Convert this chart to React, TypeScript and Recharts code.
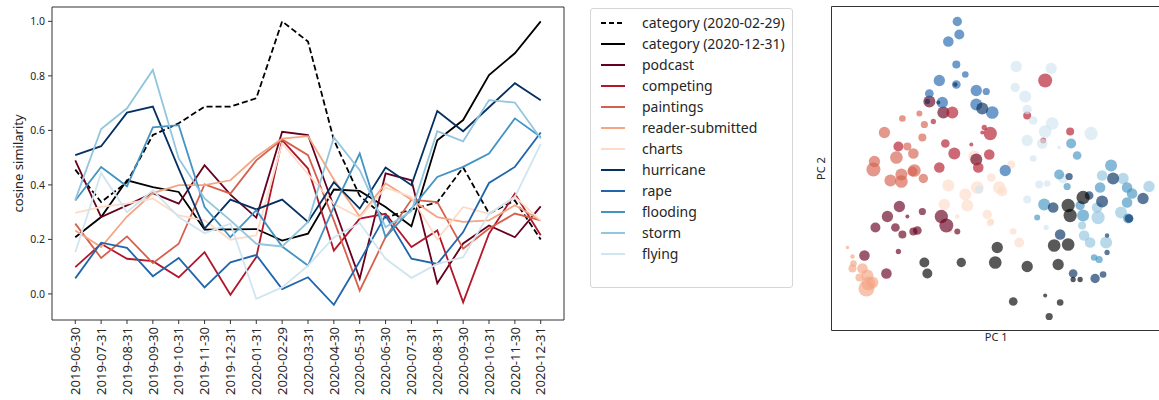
import React from 'react';
import {
  LineChart,
  Line,
  XAxis,
  YAxis,
  Legend,
  ReferenceLine,
  ScatterChart,
  Scatter,
  ZAxis,
  Label,
} from 'recharts';

// month-end snapshots
const dates = [
  '2019-06-30', '2019-07-31', '2019-08-31', '2019-09-30', '2019-10-31', '2019-11-30',
  '2019-12-31', '2020-01-31', '2020-02-29', '2020-03-31', '2020-04-30', '2020-05-31',
  '2020-06-30', '2020-07-31', '2020-08-31', '2020-09-30', '2020-10-31', '2020-11-30',
  '2020-12-31',
];

const category0229 = [0.456, 0.337, 0.41, 0.583, 0.626, 0.687, 0.687, 0.718, 1.0, 0.926, 0.565, 0.36, 0.28, 0.31, 0.336, 0.464, 0.295, 0.343, 0.2];
const category1231 = [0.208, 0.282, 0.417, 0.392, 0.374, 0.236, 0.237, 0.238, 0.196, 0.221, 0.383, 0.378, 0.319, 0.248, 0.564, 0.638, 0.803, 0.883, 1.0];
const podcast = [0.49, 0.282, 0.325, 0.37, 0.331, 0.472, 0.364, 0.28, 0.595, 0.583, 0.32, 0.056, 0.442, 0.417, 0.039, 0.185, 0.251, 0.208, 0.321];
const competing = [0.098, 0.184, 0.129, 0.12, 0.061, 0.153, -0.003, 0.135, 0.564, 0.46, 0.159, 0.276, 0.294, 0.172, 0.233, -0.031, 0.221, 0.368, 0.215];
const paintings = [0.258, 0.132, 0.211, 0.113, 0.184, 0.402, 0.368, 0.49, 0.567, 0.509, 0.27, 0.012, 0.208, 0.346, 0.337, 0.166, 0.24, 0.295, 0.27];
const readerSubmitted = [0.233, 0.172, 0.284, 0.37, 0.399, 0.399, 0.417, 0.503, 0.57, 0.579, 0.42, 0.284, 0.405, 0.346, 0.282, 0.264, 0.27, 0.325, 0.27];
const charts = [0.297, 0.319, 0.331, 0.35, 0.288, 0.27, 0.199, 0.215, 0.552, 0.44, 0.33, 0.28, 0.39, 0.356, 0.2, 0.319, 0.294, 0.356, 0.27];
const hurricane = [0.509, 0.542, 0.665, 0.687, 0.46, 0.24, 0.346, 0.31, 0.346, 0.264, 0.41, 0.313, 0.464, 0.399, 0.671, 0.597, 0.685, 0.773, 0.711];
const rape = [0.057, 0.188, 0.169, 0.065, 0.132, 0.024, 0.116, 0.143, 0.018, 0.061, -0.04, 0.12, 0.288, 0.129, 0.11, 0.227, 0.407, 0.466, 0.592];
const flooding = [0.343, 0.466, 0.395, 0.611, 0.619, 0.319, 0.208, 0.307, 0.174, 0.104, 0.319, 0.515, 0.208, 0.313, 0.429, 0.466, 0.515, 0.644, 0.576];
const storm = [0.345, 0.605, 0.681, 0.822, 0.497, 0.35, 0.27, 0.184, 0.174, 0.264, 0.574, 0.454, 0.245, 0.304, 0.597, 0.56, 0.711, 0.702, 0.57];
const flying = [0.153, 0.444, 0.3, 0.38, 0.282, 0.223, 0.258, -0.018, 0.024, 0.104, 0.207, 0.26, 0.129, 0.059, 0.11, 0.135, 0.294, 0.356, 0.55];

const yTicks = [0, 0.2, 0.4, 0.6, 0.8, 1.0];

// PCA projection: [PC1, PC2, weight]
const podcastPts = [[98, 229, 36], [112, 218, 36], [68, 124, 32], [56, 114, 32], [44, 103, 25], [64, 103, 19], [71, 96, 16], [82, 99, 16], [86, 100, 19], [91, 119, 13], [76, 114, 4], [110, 114, 44], [115, 105, 49], [126, 99, 9], [33, 75, 28], [55, 57, 28], [67, 79, 7], [145, 171, 36]];
const competingPts = [[121, 218, 36], [159, 197, 44], [153, 203, 7], [151, 198, 4], [114, 187, 19], [123, 177, 36], [158, 176, 28], [108, 163, 28], [67, 184, 25], [147, 163, 28], [102, 209, 7], [140, 186, 4], [214, 250, 49], [239, 199, 16], [196, 215, 16], [212, 190, 9]];
const paintingsPts = [[53, 198, 32], [71, 212, 11], [88, 217, 9], [93, 206, 13], [91, 193, 16], [76, 184, 16], [65, 173, 40], [82, 177, 28], [43, 169, 32], [42, 161, 49], [83, 160, 40], [70, 156, 36], [59, 150, 36], [70, 149, 40], [92, 152, 22], [81, 159, 25]];
const readerPts = [[16, 83, 3], [21, 74, 5], [22, 67, 11], [21, 62, 16], [31, 62, 28], [36, 55, 36], [28, 53, 16], [37, 47, 49], [35, 42, 64], [41, 48, 36]];
const chartsPts = [[117, 145, 36], [134, 136, 36], [136, 125, 36], [113, 126, 32], [146, 143, 40], [156, 116, 22], [159, 108, 13], [126, 114, 5], [160, 153, 19], [143, 174, 36], [119, 100, 5], [180, 166, 16], [168, 143, 40], [171, 139, 25], [182, 99, 11], [188, 88, 25], [160, 109, 7]];
const hurricanePts = [[151, 222, 36], [124, 246, 5], [107, 228, 4], [96, 229, 7], [222, 123, 28], [229, 96, 28], [242, 57, 19], [264, 52, 22], [272, 56, 11], [258, 135, 19], [271, 129, 36], [282, 152, 36], [312, 132, 32], [298, 112, 19], [276, 78, 7], [276, 95, 5], [238, 154, 13]];
const rapePts = [[126, 309, 22], [128, 296, 25], [117, 289, 28], [125, 266, 16], [134, 256, 11], [108, 250, 32], [125, 246, 19], [98, 237, 19], [111, 228, 32], [145, 240, 32], [155, 239, 13], [145, 226, 36], [161, 218, 40], [174, 160, 32]];
const floodingPts = [[240, 187, 25], [246, 175, 19], [213, 126, 36], [206, 113, 9], [228, 156, 25], [236, 144, 13], [280, 165, 36], [296, 143, 28], [301, 137, 28], [296, 128, 28], [249, 125, 22], [252, 115, 36], [263, 73, 11], [268, 71, 13], [297, 112, 25], [269, 143, 28]];
const stormPts = [[271, 155, 28], [292, 152, 32], [290, 118, 36], [267, 113, 44], [251, 105, 16], [253, 95, 28], [259, 88, 28], [275, 88, 36], [318, 144, 32], [266, 123, 28]];
const flyingPts = [[185, 264, 32], [220, 262, 32], [184, 243, 22], [194, 234, 36], [196, 221, 22], [202, 210, 19], [214, 199, 40], [221, 207, 40], [260, 197, 44], [196, 190, 32], [211, 187, 28], [228, 183, 3], [202, 172, 11], [208, 146, 16], [216, 147, 11], [196, 131, 16], [215, 103, 7], [232, 152, 25], [148, 141, 16]];
const categoryPts = [[93, 68, 25], [96, 57, 25], [130, 68, 22], [166, 83, 32], [164, 68, 40], [196, 64, 32], [227, 66, 32], [223, 85, 40], [237, 86, 40], [237, 125, 44], [239, 115, 44], [252, 133, 44], [182, 29, 19], [214, 35, 4], [229, 28, 11], [218, 14, 13], [242, 51, 7], [249, 51, 7]];

const series = [
  { key: 'cat0229', name: 'category (2020-02-29)', values: category0229, color: '#000000', dash: '6 3' },
  { key: 'cat1231', name: 'category (2020-12-31)', values: category1231, color: '#000000' },
  { key: 'podcast', name: 'podcast', values: podcast, color: '#67001f' },
  { key: 'competing', name: 'competing', values: competing, color: '#b2182b' },
  { key: 'paintings', name: 'paintings', values: paintings, color: '#d6604d' },
  { key: 'reader', name: 'reader-submitted', values: readerSubmitted, color: '#f4a582' },
  { key: 'charts', name: 'charts', values: charts, color: '#fddbc7' },
  { key: 'hurricane', name: 'hurricane', values: hurricane, color: '#053061' },
  { key: 'rape', name: 'rape', values: rape, color: '#2166ac' },
  { key: 'flooding', name: 'flooding', values: flooding, color: '#4393c3' },
  { key: 'storm', name: 'storm', values: storm, color: '#92c5de' },
  { key: 'flying', name: 'flying', values: flying, color: '#d1e5f0' },
];

const scatterGroups = [
  { name: 'reader-submitted', pts: readerPts, color: '#f4a582' },
  { name: 'paintings', pts: paintingsPts, color: '#d6604d' },
  { name: 'charts', pts: chartsPts, color: '#fddbc7' },
  { name: 'podcast', pts: podcastPts, color: '#67001f' },
  { name: 'competing', pts: competingPts, color: '#b2182b' },
  { name: 'flying', pts: flyingPts, color: '#d1e5f0' },
  { name: 'storm', pts: stormPts, color: '#92c5de' },
  { name: 'flooding', pts: floodingPts, color: '#4393c3' },
  { name: 'rape', pts: rapePts, color: '#2166ac' },
  { name: 'hurricane', pts: hurricanePts, color: '#053061' },
  { name: 'category', pts: categoryPts, color: '#000000' },
];

const lineData = dates.map((d, i) => {
  const row: Record<string, number | string> = { i, date: d };
  series.forEach((s) => {
    row[s.key] = s.values[i];
  });
  return row;
});

const AXIS = '#333333';
const TEXT = '#262626';

function DateTick({ x, y, payload }: any) {
  return (
    <g transform={`translate(${x},${y})`}>
      <text transform="rotate(-90)" textAnchor="end" dy="0.36em" x={-1} fontSize={13} fill={TEXT}>
        {dates[payload.value]}
      </text>
    </g>
  );
}

function LegendBox({ payload }: any) {
  const items = [...(payload || [])].sort(
    (a: any, b: any) =>
      series.findIndex((s) => s.key === a.dataKey) - series.findIndex((s) => s.key === b.dataKey)
  );
  return (
    <div
      style={{
        border: '1px solid #d6d6d6',
        borderRadius: 3,
        background: '#fff',
        padding: '3px 0 3px 0',
        boxSizing: 'border-box',
        width: 203,
        height: 280,
      }}
    >
      {items.map((it: any) => {
        const s = series.find((q) => q.key === it.dataKey);
        return (
          <div key={it.dataKey} style={{ display: 'flex', alignItems: 'center', height: 21 }}>
            <svg width={24} height={4} style={{ marginLeft: 10, marginRight: 17 }}>
              <line x1={0} y1={2} x2={24} y2={2} stroke={it.color} strokeWidth={2} strokeDasharray={s && s.dash ? '5 3' : undefined} />
            </svg>
            <span style={{ fontSize: 14, color: TEXT, lineHeight: '21px', whiteSpace: 'nowrap' }}>{it.value}</span>
          </div>
        );
      })}
    </div>
  );
}

export default function App() {
  return (
    <div
      style={{
        position: 'absolute',
        left: 0,
        top: 0,
        width: 1159,
        height: 400,
        overflow: 'hidden',
        background: '#fff',
        fontFamily: '"Noto Sans", sans-serif',
      }}
    >
      <div style={{ position: 'absolute', left: 0, top: 0 }}>
        <LineChart width={800} height={400} data={lineData} margin={{ top: 7, right: 236, bottom: 0, left: 0 }}>
          <XAxis
            dataKey="i"
            type="number"
            domain={[-0.9, 18.9]}
            ticks={dates.map((_, i) => i)}
            interval={0}
            allowDataOverflow
            height={80}
            tickSize={4}
            tickMargin={2}
            tick={<DateTick />}
            stroke={AXIS}
          />
          <YAxis
            type="number"
            domain={[-0.0957, 1.0527]}
            ticks={yTicks}
            allowDataOverflow
            width={52}
            tickSize={4}
            tickMargin={3}
            tickFormatter={(v: number) => v.toFixed(1)}
            tick={{ fontSize: 10.5, fill: TEXT }}
            stroke={AXIS}
          >
            <Label value="cosine similarity" angle={-90} position="center" dx={-8} style={{ fontSize: 13, fill: TEXT }} />
          </YAxis>
          <ReferenceLine x={18.9} stroke={AXIS} ifOverflow="extendDomain" />
          <ReferenceLine y={1.0527} stroke={AXIS} ifOverflow="extendDomain" />
          {series.map((s) => (
            <Line
              key={s.key}
              dataKey={s.key}
              name={s.name}
              type="linear"
              stroke={s.color}
              strokeWidth={1.8}
              strokeDasharray={s.dash}
              dot={false}
              activeDot={false}
              isAnimationActive={false}
            />
          ))}
          <Legend
            layout="vertical"
            align="center"
            verticalAlign="middle"
            wrapperStyle={{ left: 590, top: 8, width: 203, height: 280 }}
            content={<LegendBox />}
          />
        </LineChart>
      </div>

      <div style={{ position: 'absolute', left: 800, top: 0, width: 359, height: 400, overflow: 'hidden' }}>
        <ScatterChart width={365} height={400} margin={{ top: 6.5, right: 4, bottom: 0, left: 10 }}>
          <XAxis
            dataKey="x"
            type="number"
            domain={[0, 330]}
            allowDataOverflow
            tick={false}
            tickLine={false}
            height={69.5}
            stroke={AXIS}
          >
            <Label value="PC 1" position="insideTop" offset={3} style={{ fontSize: 11, fill: TEXT }} />
          </XAxis>
          <YAxis
            dataKey="y"
            type="number"
            domain={[0, 324]}
            allowDataOverflow
            tick={false}
            tickLine={false}
            width={21.5}
            stroke={AXIS}
          >
            <Label value="PC 2" angle={-90} position="center" style={{ fontSize: 11, fill: TEXT }} />
          </YAxis>
          <ZAxis dataKey="z" type="number" domain={[0, 64]} range={[0, 201]} />
          <ReferenceLine y={324} stroke={AXIS} />
          {scatterGroups.map((g) => (
            <Scatter
              key={g.name}
              name={g.name}
              data={g.pts.map(([x, y, z]) => ({ x, y, z }))}
              fill={g.color}
              fillOpacity={0.65}
              shape="circle"
              isAnimationActive={false}
            />
          ))}
        </ScatterChart>
      </div>
    </div>
  );
}
